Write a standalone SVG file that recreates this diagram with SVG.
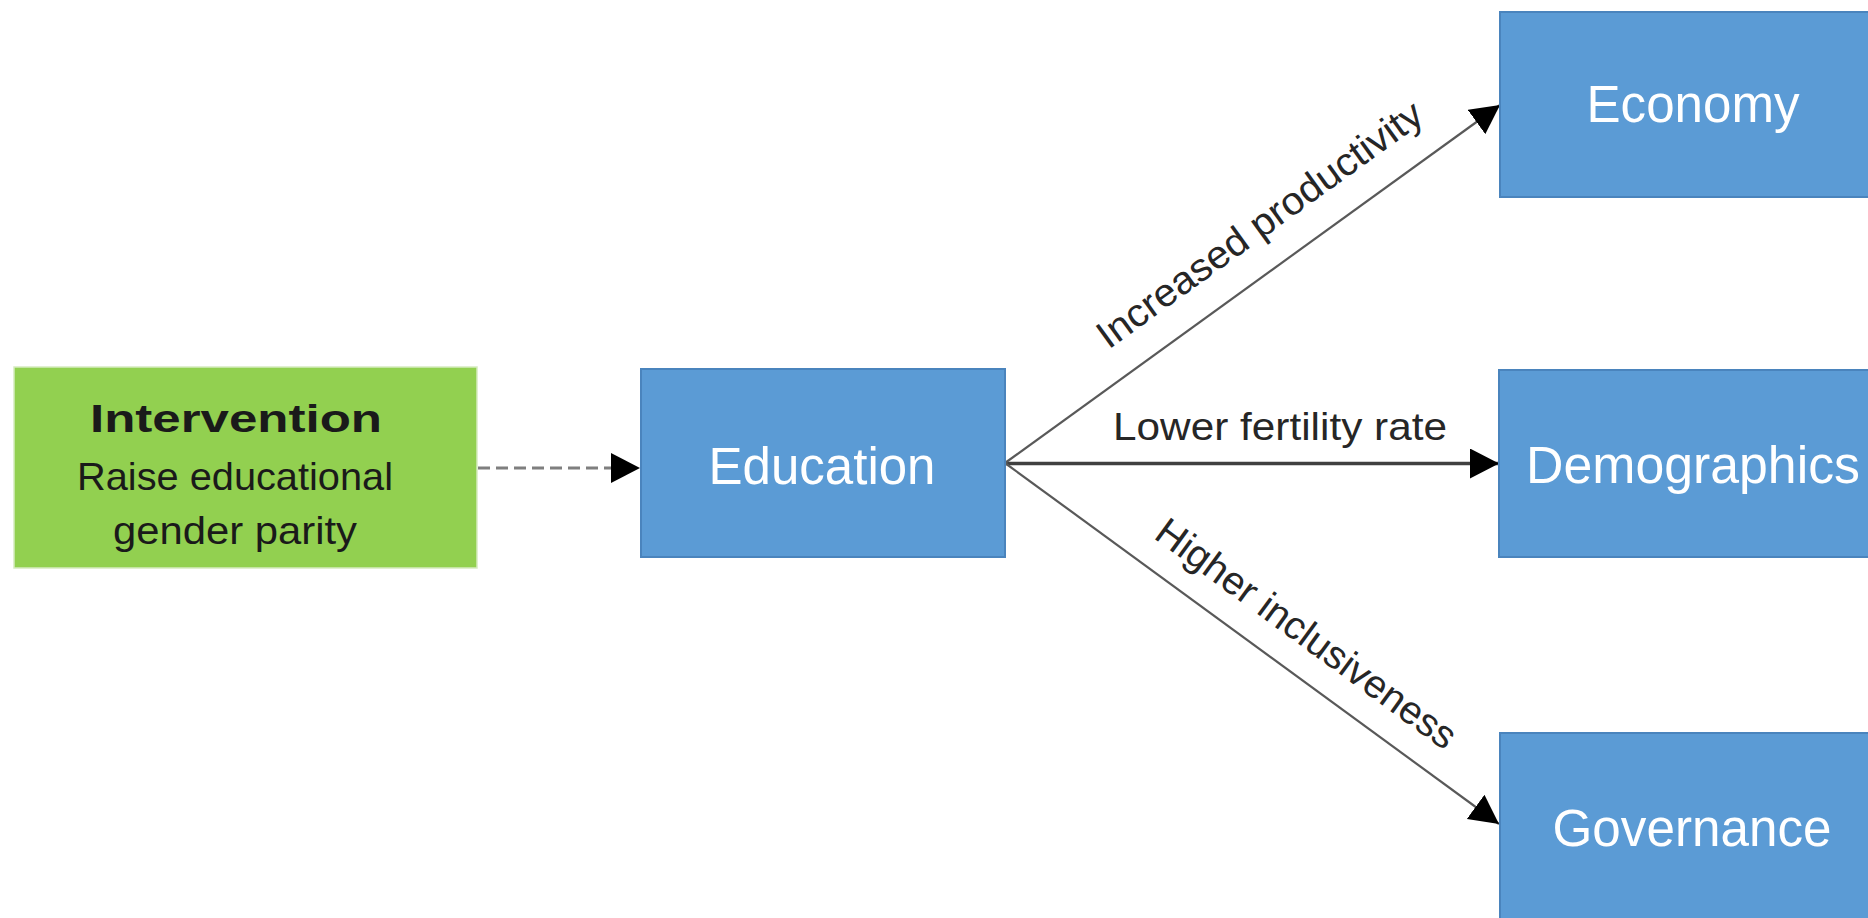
<svg xmlns="http://www.w3.org/2000/svg" width="1868" height="918" viewBox="0 0 1868 918">
<style>
.blue{fill:#5b9bd5;stroke:#4a84bd;stroke-width:2}
.green{fill:#92d050;stroke:#d6ebc0;stroke-width:1.5}
.ntext{font-family:"Liberation Sans",Arial,sans-serif;font-size:51px;fill:#ffffff;text-anchor:middle}
.gtext{font-family:"Liberation Sans",Arial,sans-serif;font-size:39px;fill:#1a1a1a;text-anchor:middle}
.lbl{font-family:"Liberation Sans",Arial,sans-serif;font-size:39px;fill:#262626;text-anchor:middle}
.diag{stroke:#595959;stroke-width:2.2;fill:none}
</style>
<defs>
<marker id="arr" markerUnits="userSpaceOnUse" markerWidth="30" markerHeight="30" refX="29" refY="15" orient="auto">
<path d="M0,0 L29,15 L0,30 z" fill="#000"/>
</marker>
</defs>
<rect width="1868" height="918" fill="#ffffff"/>
<g id="connectors">
<line x1="478" y1="468" x2="640" y2="468" stroke="#7f7f7f" stroke-width="3" stroke-dasharray="12,6" marker-end="url(#arr)"/>
<line x1="1005" y1="463.5" x2="1499" y2="463.5" stroke="#404040" stroke-width="3.5" marker-end="url(#arr)"/>
<line class="diag" x1="1005" y1="463" x2="1500" y2="105" marker-end="url(#arr)"/>
<line class="diag" x1="1005" y1="463" x2="1499" y2="824" marker-end="url(#arr)"/>
<text class="lbl" x="1280" y="440" textLength="334" lengthAdjust="spacingAndGlyphs">Lower fertility rate</text>
<text class="lbl" transform="translate(1005,463) rotate(-35.87)" x="346" y="-31" textLength="392" lengthAdjust="spacingAndGlyphs">Increased productivity</text>
<text class="lbl" transform="translate(1005,463) rotate(36.16)" x="344" y="-27" textLength="362" lengthAdjust="spacingAndGlyphs">Higher inclusiveness</text>
</g>
<g id="intervention">
<rect class="green" x="14" y="367" width="463" height="201"/>
<text class="gtext" x="236" y="432" font-size="49" font-weight="bold" textLength="292" lengthAdjust="spacingAndGlyphs">Intervention</text>
<text class="gtext" x="235" y="490" textLength="316" lengthAdjust="spacingAndGlyphs">Raise educational</text>
<text class="gtext" x="235" y="544" textLength="244" lengthAdjust="spacingAndGlyphs">gender parity</text>
</g>
<g id="education">
<rect class="blue" x="641" y="369" width="364" height="188"/>
<text class="ntext" x="822" y="484" textLength="227" lengthAdjust="spacingAndGlyphs">Education</text>
</g>
<g id="economy">
<rect class="blue" x="1500" y="12" width="386" height="185"/>
<text class="ntext" x="1693" y="122" textLength="213" lengthAdjust="spacingAndGlyphs">Economy</text>
</g>
<g id="demographics">
<rect class="blue" x="1499" y="370" width="387" height="187"/>
<text class="ntext" x="1693" y="483" textLength="334" lengthAdjust="spacingAndGlyphs">Demographics</text>
</g>
<g id="governance">
<rect class="blue" x="1500" y="733" width="386" height="190"/>
<text class="ntext" x="1692" y="846" textLength="279" lengthAdjust="spacingAndGlyphs">Governance</text>
</g>
</svg>
